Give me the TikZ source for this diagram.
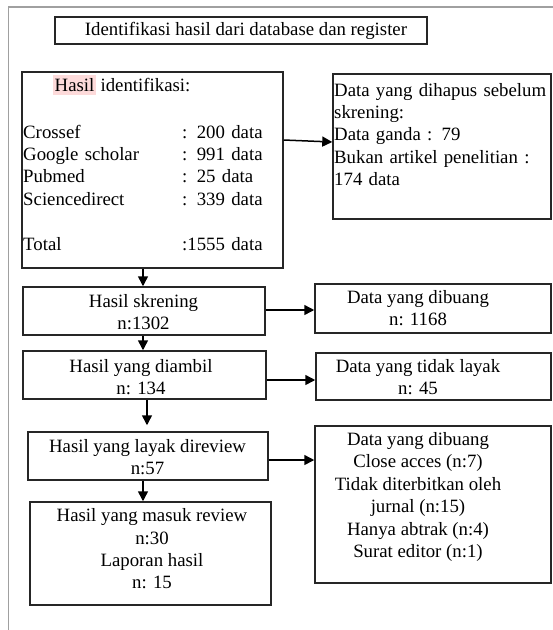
\documentclass[tikz,border=0pt]{standalone}
\usepackage{fontspec}
\setmainfont{Liberation Serif}
\usetikzlibrary{arrows.meta}
\definecolor{hlcol}{RGB}{253,218,218}
\definecolor{framecol}{RGB}{160,160,160}
\newcommand\hlword[1]{{\setlength{\fboxsep}{0pt}\colorbox{hlcol}{\rule[-4pt]{0pt}{20pt}\hspace{1.5pt}#1\hspace{1.5pt}}}}
\begin{document}
\begin{tikzpicture}[x=1pt,y=-1pt,
  box/.style={draw=black!85, line width=1.5pt, rectangle, inner sep=0pt},
  txt/.style={inner sep=0pt, font=\fontsize{18.8}{22.4}\selectfont},
  ctxt/.style={txt, align=center},
  arr/.style={draw=black, line width=1.5pt, -{Triangle[length=10pt,width=10pt]}}]
\useasboundingbox (0,0) rectangle (553,630);
\fill[white] (0,0) rectangle (553,630);
% outer frame
\draw[framecol, line width=1.6pt] (8.5,630) -- (8.5,7) -- (553,7);
% boxes
\node[box, minimum width=372pt, minimum height=27pt] (title) at (241,30.5) {};
\node[box, minimum width=261pt, minimum height=196pt] (id) at (152.5,170) {};
\node[box, minimum width=218pt, minimum height=145pt] (rem) at (442,146.5) {};
\node[box, minimum width=242pt, minimum height=48pt] (skr) at (144,311) {};
\node[box, minimum width=236pt, minimum height=49pt] (dib) at (433,308.5) {};
\node[box, minimum width=243pt, minimum height=48pt] (amb) at (144.5,375) {};
\node[box, minimum width=235pt, minimum height=47pt] (tl) at (433.5,376.5) {};
\node[box, minimum width=240pt, minimum height=48pt] (lay) at (148,456) {};
\node[box, minimum width=241pt, minimum height=103pt] (mas) at (150.5,553.5) {};
\node[box, minimum width=236pt, minimum height=157pt] (dibb) at (433,504.5) {};
% texts
\node[txt] (titlet) at (246,31) {Identifikasi hasil dari database dan register};
\node[txt, anchor=base west] (idh) at (53,91) {\hlword{Hasil} identifikasi:};
\node[txt, text width=155pt, align=left, anchor=base west] (idl) at (23,138)
  {Crossef\\Google scholar\\Pubmed\\Sciencedirect\\[22.4pt]Total};
\node[txt, text width=95pt, align=left, anchor=base west] (idr) at (182,138)
  {: 200 data\\: 991 data\\: 25 data\\: 339 data\\[22.4pt]:1555 data};
\node[txt, text width=225pt, align=left, anchor=base west] (remt) at (334,96)
  {Data yang dihapus sebelum\\skrening:\\Data ganda : 79\\Bukan artikel penelitian :\\174 data};
\node[ctxt] (skrt) at (143.5,312) {Hasil skrening\\n:1302};
\node[ctxt] (dibt) at (418,308) {Data yang dibuang\\n: 1168};
\node[ctxt] (ambt) at (141,377) {Hasil yang diambil\\n: 134};
\node[ctxt] (tlt) at (418,377) {Data yang tidak layak\\n: 45};
\node[ctxt] (layt) at (147.5,457) {Hasil yang layak direview\\n:57};
\node[ctxt] (mast) at (152,549) {Hasil yang masuk review\\n:30\\Laporan hasil\\n: 15};
\node[ctxt] (dibbt) at (418,497) {Data yang dibuang\\Close acces (n:7)\\Tidak diterbitkan oleh\\jurnal (n:15)\\Hanya abtrak (n:4)\\Surat editor (n:1)};
% connectors
\draw[arr] (id.east |- 0,140) -- (rem.west |- 0,142);
\draw[arr] (id.south -| 143,0) -- (skr.north -| 143,0);
\draw[arr] (skr.east |- 0,310) -- (dib.west |- 0,310);
\draw[arr] (skr.south -| 143,0) -- (amb.north -| 143,0);
\draw[arr] (amb.east |- 0,380) -- (tl.west |- 0,380);
\draw[arr, shorten >=6pt] (amb.south -| 147,0) -- (lay.north -| 147,0);
\draw[arr] (lay.east |- 0,460) -- (dibb.west |- 0,460);
\draw[arr] (lay.south -| 143,0) -- (mas.north -| 143,0);
\end{tikzpicture}
\end{document}
